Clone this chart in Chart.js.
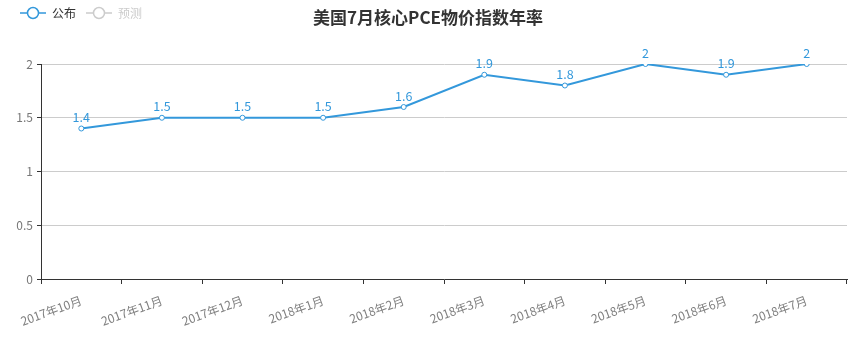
<!DOCTYPE html>
<html>
<head>
<meta charset="utf-8">
<script src="https://cdn.jsdelivr.net/npm/chart.js@4/dist/chart.umd.min.js"></script>
<style>
html,body{margin:0;padding:0;background:#fff}
#wrap{width:857px;height:338px;position:relative}
</style>
</head>
<body>
<div id="wrap"><canvas id="c"></canvas></div>
<script>
// 美国7月核心PCE物价指数年率
const TITLE="美国7月核心PCE物价指数年率";
const categories=["2017年10月","2017年11月","2017年12月","2018年1月","2018年2月","2018年3月","2018年4月","2018年5月","2018年6月","2018年7月"];
const published=[1.4,1.5,1.5,1.5,1.6,1.9,1.8,2,1.9,2];
const forecast=[]; // 预测 (hidden in reference)
const yTicks=[0,0.5,1,1.5,2];

const FONT='"Noto Sans CJK SC","Noto Sans",sans-serif';
const BLUE="#3398db",GRAY="#ccc";

// legend icon: short line with hollow circle
function icon(clr){
  const c=document.createElement("canvas");c.width=26;c.height=14;
  const x=c.getContext("2d");
  x.strokeStyle=clr;x.lineWidth=1.5;
  x.beginPath();x.moveTo(0,7);x.lineTo(7,7);x.moveTo(19,7);x.lineTo(26,7);x.stroke();
  x.fillStyle="#fff";x.beginPath();x.arc(13,7,5.5,0,Math.PI*2);x.fill();x.stroke();
  return c;
}

// push plot area down below legend/title row, nudge legend right
const legendPad={id:"lp",
  beforeInit(ch){const f=ch.legend.fit;ch.legend.fit=function(){f.bind(ch.legend)();this.height+=32}},
  beforeDraw(ch){ch.legend.left=10;ch.legend.top=-3}
};
const titlePlug={id:"ttl",afterDraw(ch){
  const x=ch.ctx;x.save();
  x.font="bold 17px "+FONT;x.fillStyle="#333";x.textAlign="center";x.textBaseline="middle";
  x.fillText(TITLE,428,18);x.restore();
}};
const lblPlug={id:"lbl",afterDatasetsDraw(ch){
  const x=ch.ctx;x.save();
  x.font="12.5px "+FONT;x.textAlign="center";x.textBaseline="bottom";
  ch.data.datasets.forEach((ds,i)=>{
    const m=ch.getDatasetMeta(i);if(m.hidden)return;
    m.data.forEach((p,j)=>{if(ds.data[j]==null)return;x.fillStyle=ds.borderColor;x.fillText(String(ds.data[j]),p.x,p.y-5)});
  });
  x.restore();
}};

new Chart(document.getElementById("c"),{
  type:"line",
  data:{labels:categories,datasets:[
    {label:"公布",data:published,borderColor:BLUE,backgroundColor:"#fff",borderWidth:2,pointRadius:2.5,pointBorderWidth:1,pointBackgroundColor:"#fff",pointBorderColor:BLUE,tension:0,fill:false},
    {label:"预测",data:forecast,borderColor:"#e6a23c",backgroundColor:"#fff",hidden:true}
  ]},
  options:{
    responsive:true,maintainAspectRatio:false,animation:false,
    layout:{padding:{left:0,right:10,top:0,bottom:0}},
    plugins:{
      title:{display:false},tooltip:{enabled:false},
      legend:{display:true,position:"top",align:"start",
        labels:{usePointStyle:true,pointStyleWidth:26,padding:10,font:{size:12,family:FONT},
          generateLabels(ch){return ch.data.datasets.map((d,i)=>{const on=ch.isDatasetVisible(i);
            return{text:d.label,datasetIndex:i,hidden:false,fontColor:on?"#333":GRAY,pointStyle:icon(on?BLUE:GRAY),lineWidth:0}})}
        }}
    },
    scales:{
      x:{offset:true,
        afterFit(a){a.height=59},
        grid:{offset:true,drawOnChartArea:false,tickColor:"#333",tickLength:5},
        border:{color:"#333",width:1},
        ticks:{color:"#808080",font:{size:12,family:FONT},minRotation:20,maxRotation:20,padding:9,autoSkip:false}},
      y:{min:0,max:2,
        afterBuildTicks(a){a.ticks=yTicks.map(v=>({value:v}))},
        afterFit(a){a.width=41},
        grid:{color:"#ccc",tickColor:"#333",tickLength:4},
        border:{color:"#333",width:1},
        ticks:{color:"#777",font:{size:12,family:FONT},padding:4,callback:v=>String(v)}}
    }
  },
  plugins:[legendPad,titlePlug,lblPlug]
});
</script>
</body>
</html>
